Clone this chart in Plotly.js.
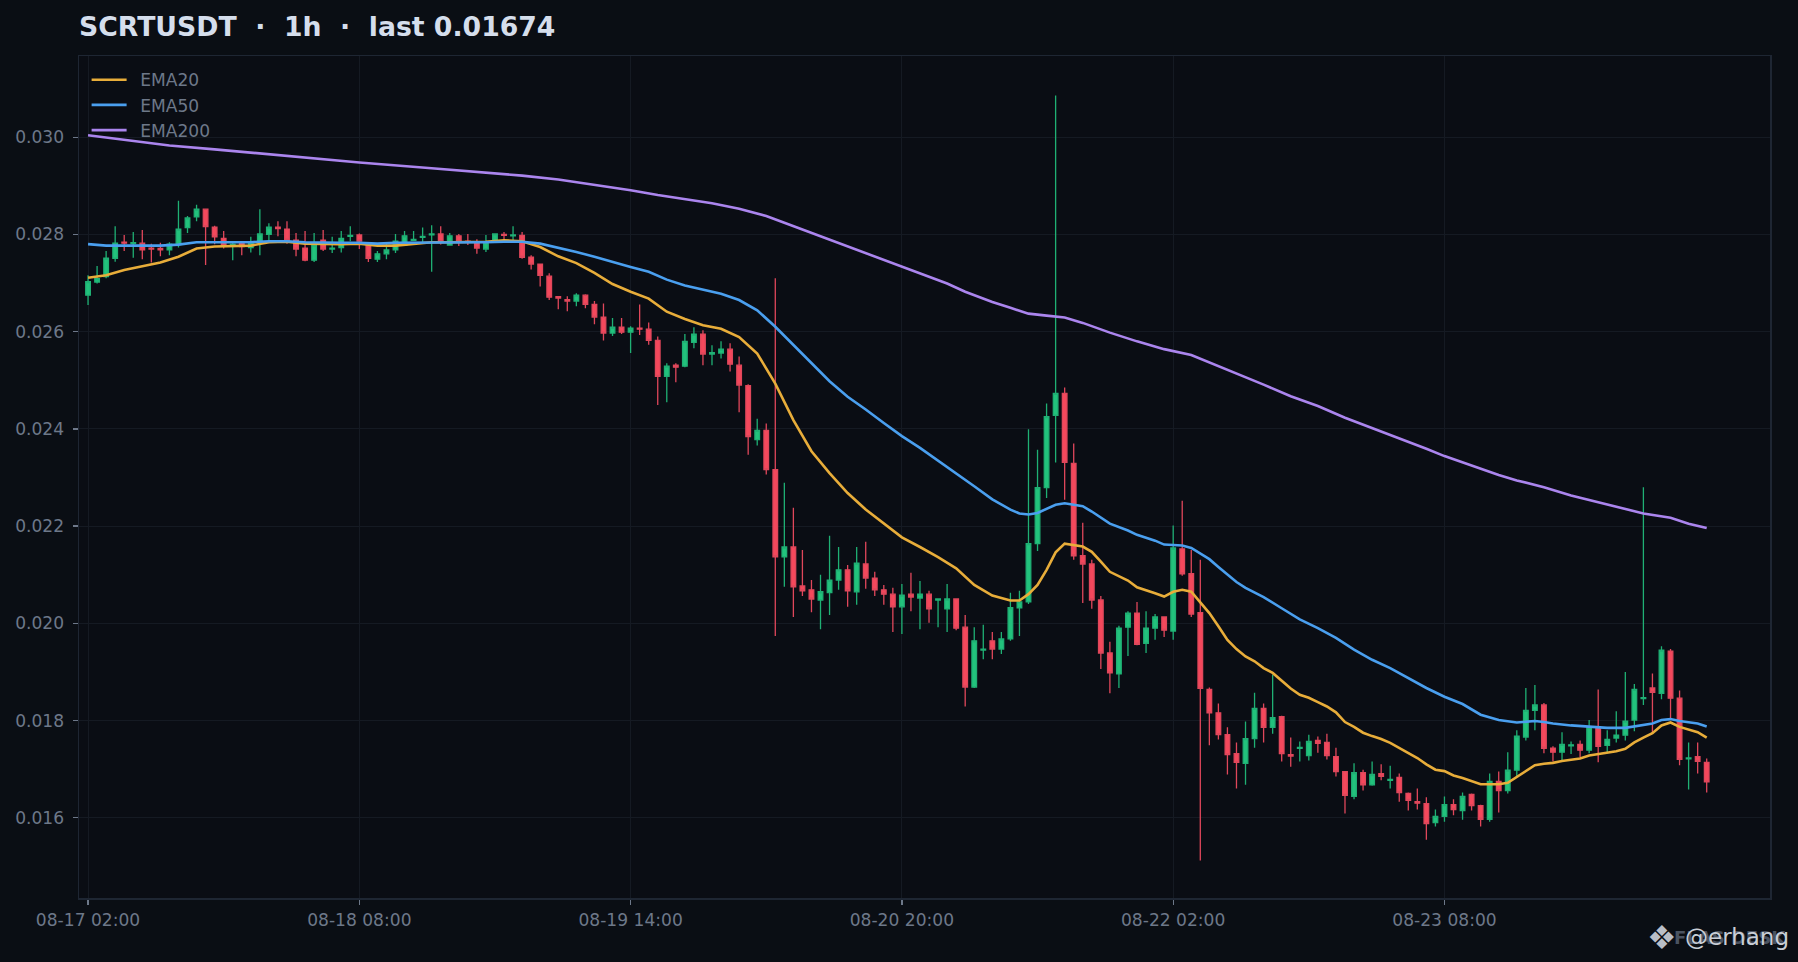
<!DOCTYPE html>
<html>
<head>
<meta charset="utf-8">
<script src="https://cdn.plot.ly/plotly-3.0.1.min.js"></script>
<style>html,body{margin:0;padding:0;background:#0a0e14;overflow:hidden}#chart{width:1798px;height:962px}</style>
</head>
<body>
<div id="chart"></div>
<script>
const opens = [.02675,.02702,.02713,.02751,.02784,.02781,.02782,.02772,.02771,.02768,.02779,.02814,.02836,.02852,.02815,.02792,.02778,.02781,.02773,.02784,.02800,.02815,.02811,.02788,.02772,.02747,.02788,.02770,.02773,.02796,
.02799,.02778,.02749,.02760,.02768,.02778,.02788,.02794,.02799,.02801,.02778,.02797,.02786,.02785,.02770,.02785,.02800,.02797,.02798,.02753,.02739,.02714,.02672,.02666,.02663,.02675,.02656,.02630,.02597,.02609,
.02599,.02607,.02605,.02582,.02508,.02531,.02529,.02578,.02595,.02554,.02556,.02564,.02531,.02489,.02378,.02397,.02316,.02137,.02157,.02077,.02069,.02048,.02063,.02089,.02110,.02065,.02122,.02093,.02069,.02060,
.02034,.02060,.02052,.02060,.02048,.02030,.02050,.01992,.01869,.01945,.01964,.01947,.01968,.02032,.02044,.02164,.02279,.02428,.02473,.02329,.02139,.02122,.02048,.01939,.01896,.01992,.02021,.01959,.01990,.02013,
.01984,.02153,.02102,.02022,.01864,.01816,.01771,.01732,.01712,.01763,.01825,.01786,.01808,.01730,.01743,.01728,.01759,.01755,.01726,.01695,.01644,.01693,.01668,.01691,.01677,.01683,.01650,.01633,.01629,.01590,
.01603,.01627,.01615,.01648,.01625,.01597,.01675,.01656,.01698,.01766,.01821,.01832,.01743,.01735,.01748,.01751,.01739,.01786,.01749,.01764,.01770,.01801,.01845,.01867,.01856,.01943,.01846,.01721,.01726,.01714];
const closes = [.02703,.02709,.02751,.02782,.02782,.02783,.02768,.02770,.02768,.02780,.02811,.02834,.02852,.02816,.02795,.02776,.02780,.02775,.02784,.02801,.02815,.02812,.02788,.02770,.02747,.02778,.02770,.02772,.02792,.02798,
.02786,.02751,.02760,.02768,.02786,.02797,.02790,.02796,.02801,.02785,.02797,.02785,.02784,.02772,.02785,.02801,.02798,.02799,.02753,.02739,.02716,.02671,.02669,.02663,.02675,.02656,.02630,.02597,.02609,.02599,
.02607,.02605,.02582,.02508,.02529,.02527,.02580,.02595,.02554,.02557,.02564,.02533,.02490,.02384,.02397,.02316,.02137,.02157,.02075,.02067,.02050,.02065,.02089,.02110,.02067,.02124,.02093,.02069,.02060,.02034,
.02058,.02054,.02060,.02030,.02050,.02050,.01990,.01869,.01964,.01947,.01947,.01968,.02032,.02044,.02164,.02279,.02425,.02473,.02331,.02139,.02122,.02048,.01939,.01898,.01990,.02021,.01957,.01990,.02013,.01986,
.02155,.02102,.02019,.01866,.01816,.01771,.01730,.01714,.01763,.01825,.01786,.01806,.01732,.01727,.01745,.01757,.01753,.01728,.01695,.01646,.01693,.01668,.01689,.01685,.01679,.01652,.01636,.01630,.01588,.01603,
.01627,.01617,.01644,.01625,.01597,.01675,.01656,.01698,.01768,.01821,.01832,.01743,.01735,.01751,.01750,.01739,.01787,.01747,.01761,.01770,.01799,.01864,.01847,.01858,.01945,.01846,.01720,.01723,.01716,.01674];
const highs = [.02716,.02735,.02766,.02817,.02799,.02805,.02809,.02781,.02783,.02784,.02869,.02838,.02861,.02853,.02818,.02807,.02785,.02785,.02795,.02852,.02823,.02827,.02827,.02803,.02807,.02803,.02809,.02795,.02807,.02817,
.02802,.02781,.02766,.02781,.02801,.02807,.02807,.02814,.02819,.02817,.02803,.02801,.02801,.02790,.02799,.02802,.02805,.02817,.02805,.02757,.02739,.02720,.02673,.02673,.02679,.02677,.02663,.02658,.02628,.02628,
.02611,.02656,.02619,.02590,.02535,.02535,.02595,.02609,.02603,.02572,.02580,.02576,.02549,.02492,.02421,.02411,.02710,.02289,.02238,.02151,.02089,.02100,.02180,.02157,.02120,.02157,.02168,.02106,.02079,.02073,
.02081,.02104,.02087,.02067,.02050,.02081,.02051,.02017,.01992,.01997,.01982,.01982,.02063,.02067,.02399,.02357,.02452,.03086,.02485,.02370,.02207,.02131,.02056,.01962,.01995,.02025,.02044,.02025,.02019,.02014,
.02201,.02252,.02151,.02131,.01868,.01835,.01786,.01755,.01798,.01857,.01835,.01894,.01810,.01765,.01757,.01771,.01767,.01773,.01744,.01696,.01712,.01699,.01716,.01710,.01707,.01691,.01652,.01660,.01642,.01617,
.01644,.01638,.01652,.01650,.01627,.01691,.01695,.01735,.01780,.01867,.01873,.01836,.01747,.01776,.01757,.01759,.01801,.01864,.01780,.01819,.01900,.01875,.02280,.01897,.01953,.01947,.01862,.01755,.01755,.01722];
const lows = [.02655,.02699,.02710,.02744,.02766,.02752,.02749,.02742,.02755,.02757,.02773,.02803,.02827,.02737,.02780,.02771,.02747,.02757,.02763,.02757,.02787,.02796,.02781,.02755,.02745,.02743,.02766,.02762,.02763,.02786,
.02770,.02743,.02743,.02749,.02762,.02776,.02788,.02784,.02723,.02779,.02778,.02776,.02778,.02760,.02764,.02783,.02788,.02788,.02750,.02728,.02693,.02665,.02646,.02642,.02652,.02648,.02615,.02582,.02591,.02595,
.02556,.02593,.02573,.02449,.02455,.02496,.02527,.02566,.02531,.02531,.02545,.02518,.02434,.02347,.02366,.02306,.01974,.02075,.02013,.02056,.02023,.01988,.02017,.02069,.02034,.02038,.02071,.02056,.02038,.01982,
.01978,.02025,.01988,.02001,.01992,.01982,.01986,.01829,.01867,.01926,.01926,.01937,.01964,.01974,.02040,.02149,.02258,.02331,.02254,.02131,.02042,.02030,.01906,.01856,.01867,.01933,.01955,.01939,.01966,.01972,
.01966,.02098,.02013,.01512,.01749,.01761,.01689,.01660,.01668,.01744,.01755,.01773,.01716,.01705,.01716,.01718,.01734,.01720,.01685,.01609,.01638,.01656,.01666,.01677,.01660,.01633,.01615,.01617,.01555,.01582,
.01592,.01605,.01596,.01615,.01582,.01592,.01611,.01650,.01683,.01759,.01780,.01733,.01716,.01718,.01731,.01724,.01733,.01714,.01735,.01755,.01759,.01778,.01832,.01776,.01844,.01803,.01708,.01658,.01691,.01652];
const candleIndex = opens.map((_, i) => i);

const ema20Index = [0,2,4,6,8,10,12,14,16,18,20,22,24,26,28,30,32,34,36,38,40,42,44,46,48,50,52,54,56,58,60,62,64,66,68,70,72,74,76,78,80,82,84,86,88,90,92,94,96,98,100,102,103,104,105,106,107,108,110,111,112,113,115,116,118,119,120,121,122,123,124,125,126,127,128,129,130,131,132,133,134,135,136,137,138,139,140,141,142,143,144,145,146,147,148,149,150,151,152,153,154,155,156,157,158,159,160,161,162,163,164,165,166,167,168,169,170,171,172,173,174,175,176,177,178,179];
const ema20 = [.02711,.02716,.02727,.02735,.02742,.02754,.02771,.02775,.02776,.02777,.02784,.02785,.02781,.02780,.02780,.02781,.02777,.02777,.02781,.02784,.02784,.02784,.02785,.02788,.02786,.02774,.02755,.02741,.02721,.02698,.02682,.02668,.02641,.02626,.02613,.02606,.02589,.02555,.02493,.02418,.02354,.02309,.02268,.02234,.02206,.02177,.02157,.02136,.02113,.02079,.02057,.02047,.02047,.02060,.02079,.02110,.02146,.02164,.02158,.02147,.02127,.02106,.02088,.02074,.02062,.02055,.02065,.02069,.02065,.02042,.02021,.01994,.01966,.01947,.01932,.01922,.01908,.01898,.01881,.01866,.01853,.01847,.01838,.01829,.01817,.01797,.01787,.01775,.01768,.01762,.01754,.01744,.01733,.01723,.01710,.01699,.01696,.01687,.01682,.01676,.01669,.01669,.01669,.01672,.01684,.01696,.01708,.01711,.01713,.01717,.01720,.01722,.01728,.01731,.01733,.01737,.01742,.01755,.01765,.01774,.01790,.01796,.01787,.01782,.01776,.01765];

const ema50Index = [0,2,4,6,8,10,12,14,16,18,20,22,24,26,28,30,32,34,36,38,40,42,44,46,48,50,52,54,56,58,60,62,64,66,68,70,72,74,76,78,80,82,84,86,88,90,92,94,96,98,100,102,103,104,105,106,107,108,110,111,112,113,115,116,118,119,120,121,122,123,124,125,126,127,128,130,132,134,136,138,140,142,144,146,148,150,152,154,156,158,160,161,162,164,166,168,170,172,173,174,175,176,178,179];
const ema50 = [.02780,.02777,.02777,.02777,.02777,.02779,.02784,.02784,.02784,.02784,.02786,.02786,.02784,.02783,.02783,.02783,.02781,.02783,.02783,.02784,.02784,.02784,.02784,.02785,.02785,.02781,.02773,.02764,.02754,.02743,.02733,.02723,.02707,.02695,.02687,.02678,.02665,.02644,.02610,.02572,.02535,.02498,.02466,.02440,.02412,.02385,.02361,.02335,.02309,.02282,.02255,.02234,.02226,.02224,.02227,.02235,.02244,.02247,.02241,.02230,.02217,.02205,.02191,.02182,.02170,.02162,.02161,.02160,.02155,.02143,.02132,.02116,.02100,.02085,.02073,.02054,.02031,.02008,.01990,.01970,.01946,.01925,.01908,.01888,.01867,.01849,.01834,.01812,.01801,.01796,.01799,.01797,.01794,.01790,.01788,.01785,.01785,.01792,.01794,.01801,.01803,.01799,.01794,.01788];

const ema200Index = [0,4,9,14,18,24,30,38,48,52,57,60,63,66,69,72,74,75,77,80,83,87,90,95,97,100,102,104,106,108,110,113,116,119,122,124,127,130,133,136,139,142,145,148,150,153,156,158,161,164,167,170,172,175,177,179];
const ema200 = [.03004,.02995,.02983,.02975,.02968,.02959,.02948,.02936,.02921,.02913,.02899,.02891,.02881,.02872,.02864,.02853,.02844,.02838,.02824,.02803,.02783,.02755,.02733,.02699,.02682,.02661,.02649,.02637,.02633,.02629,.02618,.02598,.02580,.02564,.02552,.02537,.02513,.02491,.02467,.02447,.02423,.02402,.02380,.02359,.02344,.02325,.02305,.02294,.02280,.02263,.02249,.02235,.02226,.02217,.02205,.02196];

const xTickVals = [0,30,60,90,120,150];
const xTickLabels = ['08-17 02:00','08-18 08:00','08-19 14:00','08-20 20:00','08-22 02:00','08-23 08:00'];
const yTickVals = [.016,.018,.020,.022,.024,.026,.028,.030];
const titleText = 'SCRTUSDT\u00A0\u00A0·\u00A0\u00A01h\u00A0\u00A0·\u00A0\u00A0last 0.01674';

const font = 'DejaVu Sans, sans-serif';
const px = v => (v - 79) / 1691;
const py = v => (898 - v) / 842;

const traces = [
  {type:'candlestick', x:candleIndex, open:opens, high:highs, low:lows, close:closes, showlegend:false, hoverinfo:'skip',
   whiskerwidth:0,
   increasing:{line:{color:'#1fb074', width:1.3}, fillcolor:'#22c27c'},
   decreasing:{line:{color:'#e0475b', width:1.3}, fillcolor:'#f4485c'}},
  {type:'scatter', mode:'lines', name:'\u2002EMA20', x:ema20Index, y:ema20, legendgroup:'a', line:{color:'#e8ad3a', width:2.6}, hoverinfo:'skip'},
  {type:'scatter', mode:'lines', name:'\u2002EMA50', x:ema50Index, y:ema50, legendgroup:'b', line:{color:'#4a9fef', width:2.6}, hoverinfo:'skip'},
  {type:'scatter', mode:'lines', name:'\u2002EMA200', x:ema200Index, y:ema200, legendgroup:'c', line:{color:'#ab85ee', width:2.6}, hoverinfo:'skip'}
];
const tickFont = {size:17.1, color:'#6d7889', family:font};
const layout = {
  width:1798, height:962,
  paper_bgcolor:'#0a0e14', plot_bgcolor:'#0a0d14',
  margin:{l:79, r:28, t:56, b:64, pad:0},
  font:{family:font, color:'#6d7889', size:17.1},
  title:{text:titleText, x:79/1798, xanchor:'left', xref:'container', y:1-27/962, yanchor:'middle', font:{family:font, size:26.7, color:'#d5deec', weight:700}},
  boxgap:0.27,
  xaxis:{type:'linear', range:[-1,186], tickmode:'array', tickvals:xTickVals, ticktext:xTickLabels,
    showgrid:true, gridcolor:'#151a23', gridwidth:1, zeroline:false, showline:true, mirror:true, linecolor:'#1e2633', linewidth:1.5,
    ticks:'outside', ticklen:5, tickwidth:1.3, tickcolor:'#6d7889', tickfont:tickFont, ticklabelstandoff:1, rangeslider:{visible:false}},
  yaxis:{type:'linear', range:[0.01435,0.03167], tickmode:'array', tickvals:yTickVals, tickformat:'.3f',
    showgrid:true, gridcolor:'#151a23', gridwidth:1, zeroline:false, showline:true, mirror:true, linecolor:'#1e2633', linewidth:1.5,
    ticks:'outside', ticklen:5, tickwidth:1.3, tickcolor:'#6d7889', tickfont:tickFont, ticklabelstandoff:5},
  legend:{x:0.0045, y:0.9928, xanchor:'left', yanchor:'top', bgcolor:'rgba(0,0,0,0)', borderwidth:0, itemwidth:35, tracegroupgap:0, font:tickFont, itemclick:false},
  annotations:[
    {xref:'paper', yref:'paper', x:px(1662), y:py(937), text:'❖', showarrow:false, xanchor:'center', yanchor:'middle', font:{family:font, size:33, color:'#b9bec7'}},
    {xref:'paper', yref:'paper', x:px(1672), y:py(937), text:'FLAS DESK', showarrow:false, xanchor:'left', yanchor:'middle', font:{family:font, size:18, color:'#4a5361', weight:700}},
    {xref:'paper', yref:'paper', x:px(1683), y:py(937), text:'@erhang', showarrow:false, xanchor:'left', yanchor:'middle', font:{family:font, size:23, color:'#c9ced6'}}
  ],
  showlegend:true
};
Plotly.newPlot('chart', traces, layout, {displayModeBar:false, staticPlot:true});
</script>
</body>
</html>
